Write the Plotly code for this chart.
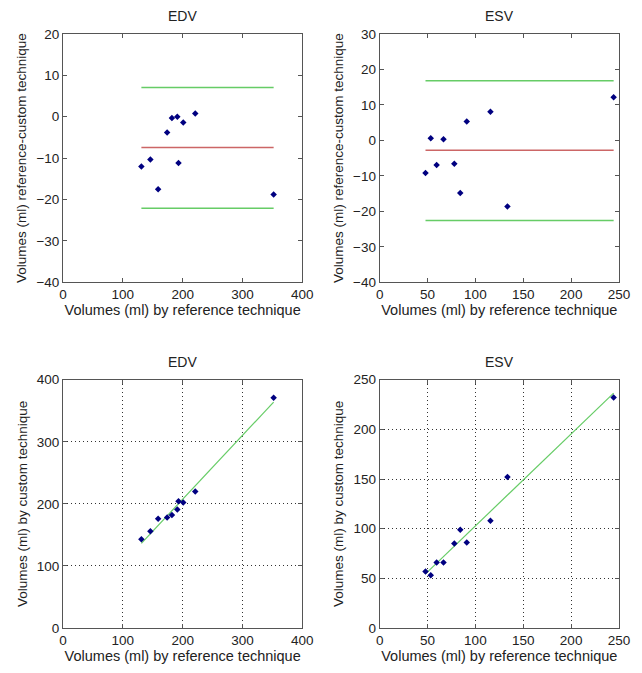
import numpy as np
import plotly.graph_objects as go
from plotly.subplots import make_subplots

# ---- data ----
edv_ref = [131, 146, 159, 174, 182, 191, 193, 201, 221, 352]
edv_diff = [-12.0, -10.3, -17.5, -3.8, -0.3, 0.0, -11.2, -1.4, 0.8, -18.8]
edv_custom = [143, 156, 176, 178, 182, 191, 204, 202, 220, 371]
edv_mean_loa = [-7.4, 7.1, -22.1]  # mean, upper, lower

esv_ref = [47.9, 53.4, 59.5, 66.7, 78.0, 84.2, 91.0, 115.7, 133.5, 244.4]
esv_diff = [-9.2, 0.6, -6.9, 0.3, -6.6, -14.8, 5.3, 8.1, -18.6, 12.2]
esv_custom = [57, 53, 66, 66, 85, 99, 86, 108, 152, 232]
esv_mean_loa = [-2.8, 16.8, -22.6]

titles = ["EDV", "ESV", "EDV", "ESV"]
xlab = "Volumes (ml) by reference technique"
ylab_top = "Volumes (ml) reference-custom technique"
ylab_bot = "Volumes (ml) by custom technique"

MARK = "#000080"
GREEN = "#66cc66"
RED = "#cc6666"
FONT = "Liberation Sans, Arial, sans-serif"
TXT = "#222222"

fig = make_subplots(rows=2, cols=2, horizontal_spacing=0.139, vertical_spacing=0.164,
                    subplot_titles=titles)

def bland(ref, diff, loa, row, col):
    xs = [min(ref), max(ref)]
    for v, c in zip(loa, [RED, GREEN, GREEN]):
        fig.add_trace(go.Scatter(x=xs, y=[v, v], mode="lines",
                                 line=dict(color=c, width=1.5), showlegend=False),
                      row=row, col=col)
    fig.add_trace(go.Scatter(x=ref, y=diff, mode="markers",
                             marker=dict(symbol="diamond", size=5, color=MARK),
                             showlegend=False), row=row, col=col)

def scat(ref, cust, row, col):
    a, b = np.polyfit(ref, cust, 1)
    xs = np.array([min(ref), max(ref)])
    fig.add_trace(go.Scatter(x=xs, y=a * xs + b, mode="lines",
                             line=dict(color=GREEN, width=1.2), showlegend=False),
                  row=row, col=col)
    fig.add_trace(go.Scatter(x=ref, y=cust, mode="markers",
                             marker=dict(symbol="diamond", size=5, color=MARK),
                             showlegend=False), row=row, col=col)

bland(edv_ref, edv_diff, edv_mean_loa, 1, 1)
bland(esv_ref, esv_diff, esv_mean_loa, 1, 2)
scat(edv_ref, edv_custom, 2, 1)
scat(esv_ref, esv_custom, 2, 2)

axcommon = dict(showline=True, linecolor="#555555", linewidth=1, mirror="ticks",
                ticks="inside", ticklen=4, tickcolor="#555555", zeroline=False,
                tickfont=dict(size=13.5, color=TXT, family=FONT))

ranges = {
    (1, 1): ([0, 400], 100, [-40, 20], 10, ylab_top, False),
    (1, 2): ([0, 250], 50, [-40, 30], 10, ylab_top, False),
    (2, 1): ([0, 400], 100, [0, 400], 100, ylab_bot, True),
    (2, 2): ([0, 250], 50, [0, 250], 50, ylab_bot, True),
}
for (r, c), (xr, xd, yr, yd, yl, grid) in ranges.items():
    g = dict(showgrid=grid, gridcolor="#333333", griddash="1px,3px", gridwidth=1)
    fig.update_xaxes(range=xr, dtick=xd, tick0=0,
                     title=dict(text=xlab, standoff=3, font=dict(size=14.5, color=TXT, family=FONT)),
                     **axcommon, **g, row=r, col=c)
    fig.update_yaxes(range=yr, dtick=yd, tick0=0,
                     title=dict(text=yl, standoff=6, font=dict(size=13.5, color=TXT, family=FONT)),
                     **axcommon, **g, row=r, col=c)

fig.update_annotations(font=dict(size=14, color=TXT, family=FONT), yshift=8)

fig.update_layout(width=642, height=673, margin=dict(l=63, r=19, t=34, b=41),
                  plot_bgcolor="white", paper_bgcolor="white",
                  font=dict(family=FONT, color=TXT))

fig.write_html("out.html", config={"displayModeBar": False},
               post_script="document.body.style.margin='0';")
